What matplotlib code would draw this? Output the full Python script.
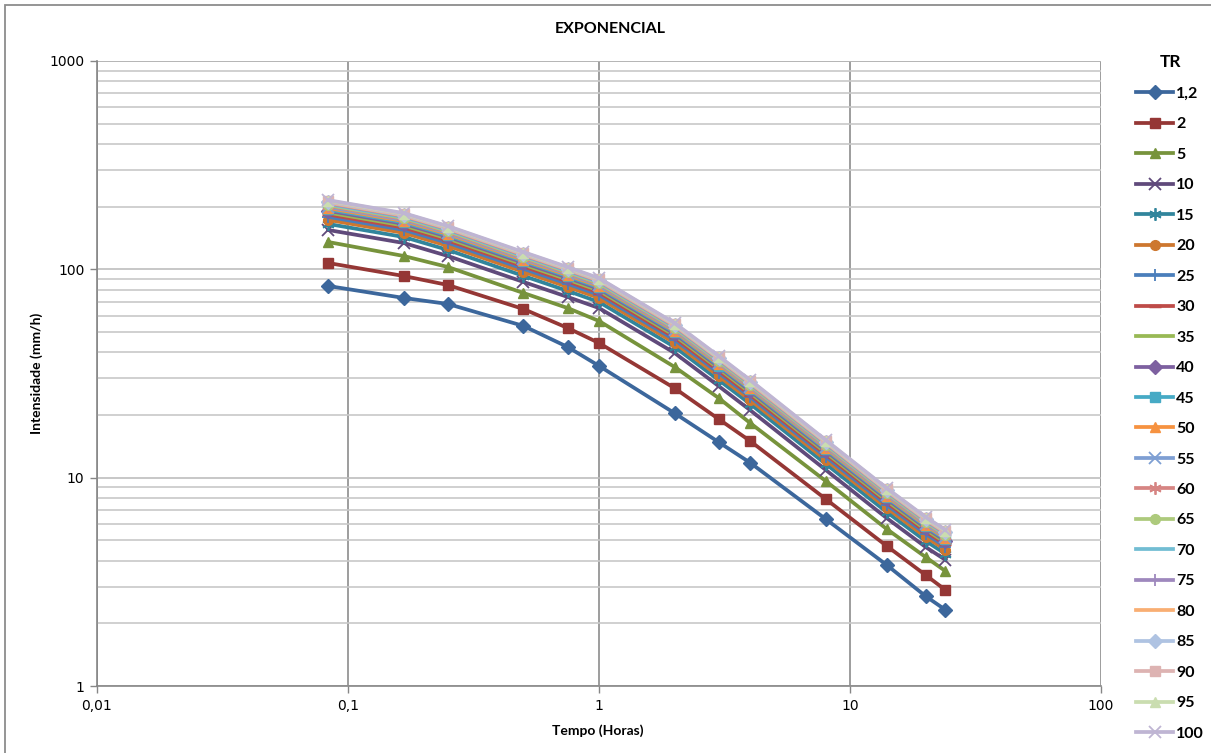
import matplotlib
matplotlib.use("Agg")
import matplotlib.pyplot as plt
from matplotlib.patches import Rectangle
from matplotlib.ticker import FixedLocator, NullFormatter, LogLocator

plt.rcParams['font.family'] = ['DejaVu Sans']

tempo = [0.0833, 0.1667, 0.25, 0.5, 0.75, 1, 2, 3, 4, 8, 14, 20, 24]
tr_labels = ["1,2", "2", "5", "10", "15", "20", "25", "30", "35", "40", "45",
             "50", "55", "60", "65", "70", "75", "80", "85", "90", "95", "100"]

tr_1_2 = [83.2, 72.9, 68.2, 53.5, 42.4, 34.4, 20.4, 14.8, 11.8, 6.33, 3.81, 2.70, 2.32]
tr_2 = [107.3, 92.9, 84.1, 64.5, 52.3, 44.3, 26.9, 19.1, 15.0, 7.90, 4.70, 3.41, 2.89]
tr_5 = [135.3, 115.9, 102.6, 77.0, 65.2, 56.5, 34.0, 24.1, 18.3, 9.64, 5.67, 4.16, 3.56]
tr_10 = [154.5, 133.8, 115.9, 87.0, 73.7, 65.2, 39.7, 27.5, 21.1, 10.9, 6.40, 4.65, 4.03]
tr_15 = [165.2, 143.0, 123.9, 93.0, 78.8, 69.7, 42.4, 29.4, 22.6, 11.65, 6.84, 4.97, 4.31]
tr_20 = [172.7, 149.6, 129.6, 97.3, 82.4, 72.9, 44.4, 30.7, 23.6, 12.19, 7.16, 5.20, 4.51]
tr_25 = [178.6, 154.7, 134.0, 100.6, 85.2, 75.4, 45.9, 31.8, 24.4, 12.60, 7.40, 5.38, 4.66]
tr_30 = [183.4, 158.8, 137.6, 103.3, 87.5, 77.4, 47.1, 32.6, 25.0, 12.94, 7.60, 5.52, 4.78]
tr_35 = [187.4, 162.3, 140.6, 105.5, 89.4, 79.1, 48.2, 33.4, 25.6, 13.22, 7.76, 5.64, 4.89]
tr_40 = [191.0, 165.4, 143.3, 107.5, 91.1, 80.6, 49.1, 34.0, 26.1, 13.47, 7.91, 5.75, 4.98]
tr_45 = [194.1, 168.1, 145.6, 109.3, 92.6, 81.9, 49.9, 34.5, 26.5, 13.69, 8.04, 5.84, 5.06]
tr_50 = [196.8, 170.5, 147.7, 110.8, 93.9, 83.1, 50.6, 35.0, 26.9, 13.89, 8.15, 5.92, 5.13]
tr_55 = [199.3, 172.6, 149.5, 112.2, 95.1, 84.1, 51.2, 35.5, 27.2, 14.06, 8.26, 6.00, 5.20]
tr_60 = [201.6, 174.6, 151.2, 113.5, 96.2, 85.1, 51.8, 35.9, 27.5, 14.22, 8.35, 6.07, 5.26]
tr_65 = [203.6, 176.3, 152.8, 114.7, 97.1, 85.9, 52.3, 36.2, 27.8, 14.37, 8.44, 6.13, 5.31]
tr_70 = [205.6, 178.1, 154.3, 115.8, 98.1, 86.8, 52.8, 36.6, 28.1, 14.51, 8.52, 6.19, 5.36]
tr_75 = [207.5, 179.7, 155.7, 116.8, 99.0, 87.6, 53.3, 36.9, 28.3, 14.64, 8.60, 6.24, 5.41]
tr_80 = [209.0, 181.0, 156.8, 117.7, 99.7, 88.2, 53.7, 37.2, 28.5, 14.75, 8.66, 6.29, 5.45]
tr_85 = [210.7, 182.5, 158.1, 118.7, 100.5, 88.9, 54.2, 37.5, 28.8, 14.87, 8.73, 6.34, 5.50]
tr_90 = [212.1, 183.7, 159.1, 119.5, 101.2, 89.5, 54.5, 37.8, 29.0, 14.97, 8.79, 6.38, 5.53]
tr_95 = [213.7, 185.1, 160.3, 120.3, 101.9, 90.2, 54.9, 38.0, 29.2, 15.07, 8.85, 6.43, 5.57]
tr_100 = [214.9, 186.1, 161.2, 121.0, 102.5, 90.7, 55.2, 38.3, 29.4, 15.16, 8.90, 6.47, 5.61]

series = [tr_1_2, tr_2, tr_5, tr_10, tr_15, tr_20, tr_25, tr_30, tr_35, tr_40, tr_45,
          tr_50, tr_55, tr_60, tr_65, tr_70, tr_75, tr_80, tr_85, tr_90, tr_95, tr_100]

colors = ['#3C679C', '#953735', '#77933C', '#604A7B', '#31859C', '#CD772F',
          '#4A7EBB', '#BE4B48', '#98B954', '#7D60A0', '#46AAC5', '#F69240',
          '#7E9FD3', '#D68583', '#ADCA7C', '#72BDD3', '#9E88BD', '#F9AE73',
          '#AFC3E2', '#DDB3B2', '#CADDB0', '#BFB5D3']
ASTER = (6, 2, 0)
markers = ['D', 's', '^', 'x', ASTER, 'o', '+', '_', None, 'D', 's', '^',
           'x', ASTER, 'o', None, '+', None, 'D', 's', '^', 'x']

fig = plt.figure(figsize=(12.11, 7.53), dpi=100)
ax = fig.add_axes([97/1211, 1-686/753, (1101-97)/1211, (686-61)/753])

for vals, lab, c, m in zip(series, tr_labels, colors, markers):
    ms = 7
    mew = 1.0
    if m in ('x', '+') or m == ASTER:
        mew = 1.3
        ms = 9
    if m == '_':
        mew = 2.5
        ms = 9
    ax.plot(tempo, vals, color=c, lw=2.7, marker=m, ms=ms, mec=c, mfc=c,
            mew=mew, label=lab, solid_joinstyle='round')

ax.set_xscale('log')
ax.set_yscale('log')
ax.set_xlim(0.01, 100)
ax.set_ylim(1, 1000)

ax.xaxis.set_major_locator(FixedLocator([0.01, 0.1, 1, 10, 100]))
ax.xaxis.set_minor_locator(FixedLocator([]))
ax.set_xticklabels(["0,01", "0,1", "1", "10", "100"])
ax.yaxis.set_major_locator(FixedLocator([1, 10, 100, 1000]))
ax.yaxis.set_minor_locator(LogLocator(base=10, subs=range(2, 10)))
ax.yaxis.set_minor_formatter(NullFormatter())
ax.set_yticklabels(["1", "10", "100", "1000"])

ax.grid(True, which='major', axis='x', color='#8C8C8C', lw=1.2)
ax.grid(True, which='major', axis='y', color='#BDBDBD', lw=1.2)
ax.grid(True, which='minor', axis='y', color='#C8C8C8', lw=1.2)
ax.set_axisbelow(True)

for s in ['top', 'right']:
    ax.spines[s].set_visible(False)
for s in ['left', 'bottom']:
    ax.spines[s].set_color('#868686')
    ax.spines[s].set_linewidth(1.2)
ax.axhline(1000, color='#808080', lw=1.2, zorder=0.5)

ax.tick_params(axis='both', which='major', length=5, width=1, color='#868686',
               labelsize=10, pad=4, labelcolor='#000000')
ax.tick_params(axis='y', which='minor', length=0)

fig.text(610/1211, 1-29/753, "EXPONENCIAL", ha='center', va='center',
         fontsize=11.5, fontweight='bold', family='Lato')
fig.text(598/1211, 1-731/753, "Tempo (Horas)", ha='center', va='center',
         fontsize=10, fontweight='bold', family='Lato')
fig.text(37/1211, 1-373/753, "Intensidade (mm/h)", ha='center', va='center',
         rotation=90, fontsize=10, fontweight='bold', family='Lato')

leg = fig.legend(loc='upper left', bbox_to_anchor=(1130/1211, 1-48/753),
                 frameon=False, title="TR", handlelength=2.3, handletextpad=0.2,
                 labelspacing=1.02, borderaxespad=0,
                 prop={'family': 'Lato', 'weight': 'bold', 'size': 11.5},
                 title_fontproperties={'family': 'Lato', 'weight': 'bold', 'size': 12.5})
leg._legend_box.align = "center"

fig.patches.append(Rectangle((5/1211, -0.05), 1.2, 1-5/753+0.05, transform=fig.transFigure,
                             fill=False, edgecolor='#8C8C8C', lw=1.3))

fig.savefig("out.png", dpi=100)
